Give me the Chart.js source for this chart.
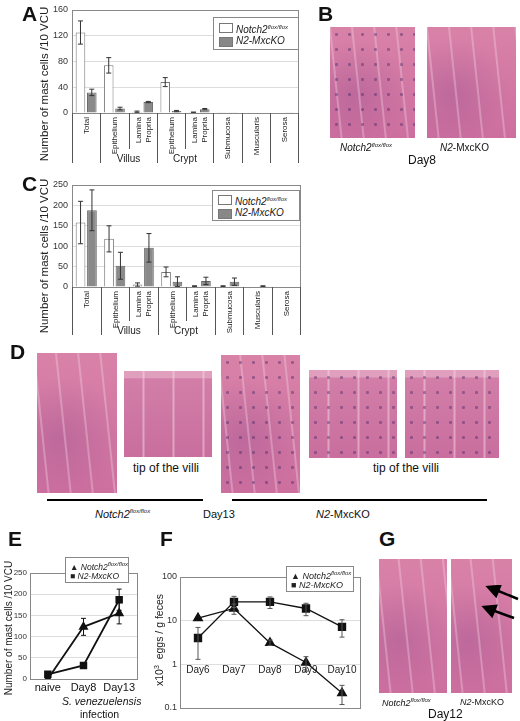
<!DOCTYPE html>
<html><head><meta charset="utf-8">
<script src="https://cdn.jsdelivr.net/npm/chart.js@4"></script>
<style>
body{margin:0;width:520px;height:721px;background:#fff;position:relative;overflow:hidden;font-family:Arial,"Liberation Sans",sans-serif;color:#111}
canvas{position:absolute}
.t{position:absolute;white-space:nowrap}
.vt{position:absolute;white-space:nowrap;transform:translate(-50%,-50%) rotate(-90deg);color:#222}
.L{position:absolute;font-weight:bold;font-size:21px}
.leg{position:absolute;border:1px solid #888;background:#fff;font-size:10px;font-style:italic;color:#222;white-space:nowrap}
.leg div{height:14px;line-height:14px;position:relative;padding-left:22px}
.sw{position:absolute;left:5px;top:3px;width:12px;height:8px;border:1px solid #777}
sup{font-size:6px}
.ph{position:absolute;background:
 repeating-linear-gradient(84deg,rgba(255,255,255,0) 0 10px,rgba(245,215,228,.35) 11px 12px,rgba(255,255,255,0) 13px 22px),
 radial-gradient(circle at 30% 60%,rgba(110,50,130,.2),rgba(0,0,0,0) 60%),
 linear-gradient(#d982a8,#cc6f9f);}
.tip{background:
 repeating-linear-gradient(90deg,rgba(255,255,255,0) 0 18px,rgba(245,215,228,.5) 19px 20px,rgba(255,255,255,0) 21px 30px),
 linear-gradient(#e0a0bd 0 8%,#d27ea8 9%,#c96e9e)}
.dots::after{content:"";position:absolute;inset:0;background:radial-gradient(circle,#3a2060 1.2px,rgba(0,0,0,0) 2px) 0 0/13px 15px;opacity:.4}
.hl{position:absolute;height:2px;background:#000}
</style></head><body>
<canvas id="cA" style="left:0px;top:0px" width="335" height="170"></canvas>
<canvas id="cC" style="left:0px;top:172px" width="335" height="165"></canvas>
<canvas id="cE" style="left:0px;top:560px" width="145" height="161"></canvas>
<canvas id="cF" style="left:145px;top:560px" width="225" height="161"></canvas>

<div class="vt" style="left:44px;top:84px;font-size:11.5px">Number of mast cells /10 VCU</div>
<div class="vt" style="left:44px;top:256px;font-size:11.5px">Number of mast cells /10 VCU</div>
<div class="vt" style="left:8px;top:628px;font-size:10px">Number of mast cells /10 VCU</div>
<div class="vt" style="left:159px;top:640px;font-size:10.5px">x10<sup style="font-size:7px">3</sup>&nbsp; eggs / g feces</div>

<div class="L" style="left:22px;top:2px">A</div>
<div class="L" style="left:318px;top:2px">B</div>
<div class="L" style="left:22px;top:172px">C</div>
<div class="L" style="left:10px;top:340px">D</div>
<div class="L" style="left:8px;top:527px">E</div>
<div class="L" style="left:160px;top:527px">F</div>
<div class="L" style="left:379px;top:527px">G</div>

<div class="leg" style="left:213px;top:17px;width:84px"><div style="margin-top:2px"><span class="sw" style="background:#fff"></span>Notch2<sup>flox/flox</sup></div><div style="margin-bottom:1px"><span class="sw" style="background:#888"></span>N2-MxcKO</div></div>
<div class="leg" style="left:212px;top:190px;width:86px"><div style="margin-top:1px"><span class="sw" style="background:#fff"></span>Notch2<sup>flox/flox</sup></div><div><span class="sw" style="background:#888"></span>N2-MxcKO</div></div>
<div class="leg" style="left:65px;top:557px;width:62px;font-size:8.5px"><div style="padding-left:4px;height:12px;line-height:12px">&#9650; Notch2<sup>flox/flox</sup></div><div style="padding-left:4px;height:12px;line-height:12px">&#9632; N2-MxcKO</div></div>
<div class="leg" style="left:286px;top:566px;width:66px;font-size:9px"><div style="padding-left:4px;height:12px;line-height:12px">&#9650; Notch2<sup>flox/flox</sup></div><div style="padding-left:4px;height:12px;line-height:12px">&#9632; N2-MxcKO</div></div>

<!-- B photos -->
<div class="ph dots" style="left:330px;top:27px;width:85px;height:111px"></div>
<div class="ph" style="left:427px;top:27px;width:89px;height:111px"></div>
<div class="t" style="left:340px;top:142px;font-size:10px;font-style:italic">Notch2<sup>flox/flox</sup></div>
<div class="t" style="left:440px;top:142px;font-size:10px"><i>N2</i>-MxcKO</div>
<div class="t" style="left:408px;top:153px;font-size:12px">Day8</div>

<!-- D photos -->
<div class="ph" style="left:37px;top:353px;width:80px;height:140px"></div>
<div class="ph tip" style="left:124px;top:371px;width:88px;height:86px"></div>
<div class="ph dots" style="left:221px;top:355px;width:79px;height:138px"></div>
<div class="ph tip dots" style="left:309px;top:370px;width:88px;height:88px"></div>
<div class="ph tip dots" style="left:405px;top:370px;width:94px;height:88px"></div>
<div class="t" style="left:133px;top:461px;font-size:12px">tip of the villi</div>
<div class="t" style="left:373px;top:461px;font-size:12px">tip of the villi</div>
<div class="hl" style="left:47px;top:499px;width:156px"></div>
<div class="hl" style="left:232px;top:499px;width:255px"></div>
<div class="t" style="left:95px;top:508px;font-size:11px;font-style:italic">Notch2<sup>flox/flox</sup></div>
<div class="t" style="left:203px;top:508px;font-size:11px">Day13</div>
<div class="t" style="left:316px;top:508px;font-size:11px"><i>N2</i>-MxcKO</div>

<!-- E x title -->
<div class="t" style="left:62px;top:695px;font-size:10.5px;font-style:italic">S. venezuelensis</div>
<div class="t" style="left:80px;top:708px;font-size:10.5px">infection</div>

<!-- G photos -->
<div class="ph" style="left:379px;top:559px;width:68px;height:134px"></div>
<div class="ph" style="left:451px;top:559px;width:61px;height:134px"></div>
<div class="t" style="left:382px;top:697px;font-size:9px;font-style:italic">Notch2<sup>flox/flox</sup></div>
<div class="t" style="left:460px;top:697px;font-size:9px"><i>N2</i>-MxcKO</div>
<div class="t" style="left:428px;top:707px;font-size:12px">Day12</div>
<svg style="position:absolute;left:480px;top:585px" width="40" height="50"><g stroke="#000" stroke-width="2.5" fill="#000"><line x1="38" y1="14" x2="16" y2="5"/><polygon points="8,2 20,1 16,11"/><line x1="34" y1="33" x2="12" y2="25"/><polygon points="4,22 16,21 12,31"/></g></svg>

<script>
// ---------- data ----------
const catsAC = ['Total','Epithelium','Lamina|Propria','Epithelium','Lamina|Propria','Submucosa','Muscularis','Serosa'];
const aFlox = [125, 74, 2, 48, 1, 0.5, 0, 0];
const aFloxErr = [18, 12, 1, 7, 0.5, 0, 0, 0];
const aKO = [32, 7, 17, 3, 6, 1, 0, 0.5];
const aKOErr = [5, 2, 1, 1, 1, 0, 0, 0];
const cFlox = [158, 118, 6, 37, 2, 2, 1, 1];
const cFloxErr = [52, 32, 4, 12, 1, 1, 0, 0];
const cKO = [188, 52, 96, 13, 15, 13, 2, 1];
const cKOErr = [50, 33, 35, 12, 9, 9, 1, 0];
const eCats = ['naive','Day8','Day13'];
const eFlox = [0, 123, 155];
const eFloxLo = [0, 103, 130];
const eFloxHi = [0, 143, 180];
const eKO = [11, 32, 187];
const eKOLo = [8, 29, 162];
const eKOHi = [14, 35, 212];
const fCats = ['Day6','Day7','Day8','Day9','Day10'];
const fFlox = [11.5, 19, 3.1, 1.1, 0.22];
const fFloxLo = [11.5, 14, 2.7, 0.7, 0.12];
const fFloxHi = [11.5, 24, 3.6, 1.5, 0.33];
const fKO = [4, 27, 27, 19, 7.2];
const fKOLo = [1.3, 20, 19, 13, 4.2];
const fKOHi = [7, 36, 35, 25, 10.5];

const F = 'Arial, "Liberation Sans", sans-serif';
Chart.defaults.font.family = F;
Chart.defaults.color = '#222';
Chart.defaults.animation = false;
Chart.defaults.plugins.legend.display = false;
Chart.defaults.plugins.tooltip.enabled = false;

const errPlugin = {id:'err', afterDatasetsDraw(ch){
  const c = ch.ctx, y = ch.scales.y;
  ch.data.datasets.forEach((ds,di)=>{
    if(!ds.lo) return;
    const m = ch.getDatasetMeta(di);
    c.save(); c.strokeStyle = ds.errColor||'#333'; c.lineWidth = 1;
    m.data.forEach((el,i)=>{
      if(ds.hi[i]===ds.lo[i]) return;
      const x = el.x, y1 = y.getPixelForValue(ds.lo[i]), y2 = y.getPixelForValue(ds.hi[i]);
      c.beginPath(); c.moveTo(x,y1); c.lineTo(x,y2);
      c.moveTo(x-2.5,y1); c.lineTo(x+2.5,y1); c.moveTo(x-2.5,y2); c.lineTo(x+2.5,y2); c.stroke();
    });
    c.restore();
  });
}};
const boxPlugin = {id:'box', afterDraw(ch){
  const a = ch.chartArea, c = ch.ctx; c.save(); c.strokeStyle='#888'; c.lineWidth=1;
  c.strokeRect(a.left+.5,a.top+.5,a.right-a.left,a.bottom-a.top); c.restore();
}};
function catLabels(depth){ return {id:'cat', afterDraw(ch){
  const c = ch.ctx, x = ch.scales.x, a = ch.chartArea, n = catsAC.length;
  const w = (a.right-a.left)/n;
  c.save(); c.strokeStyle='#555'; c.lineWidth=1; c.fillStyle='#222'; c.font='8px '+F;
  for(let k=0;k<=n;k++){
    const bx = Math.round(a.left + k*w)+.5;
    const short = (k===2||k===4);
    c.beginPath(); c.moveTo(bx,a.bottom); c.lineTo(bx,a.bottom+(short?depth-14:depth)); c.stroke();
  }
  catsAC.forEach((lab,i)=>{
    const cx = x.getPixelForValue(i); const parts = lab.split('|');
    parts.forEach((p,j)=>{
      c.save(); c.translate(cx + (parts.length>1 ? (j===0?-5:5) : 0) + 3, a.bottom+4);
      c.rotate(-Math.PI/2); c.textAlign='right'; c.fillText(p,0,0); c.restore();
    });
  });
  c.font='10px '+F; c.textAlign='center'; c.textBaseline='middle';
  c.fillText('Villus', a.left+2*w, a.bottom+depth-4);
  c.fillText('Crypt', a.left+4*w, a.bottom+depth-4);
  c.restore();
}};}
function barChart(id, flox, floxErr, ko, koErr, max, step, top, right, xh, depth){
  new Chart(document.getElementById(id),{type:'bar',
    data:{labels:catsAC, datasets:[
      {data:flox, backgroundColor:'#fff', borderColor:'#777', borderWidth:1,
       lo:flox.map((v,i)=>v-floxErr[i]), hi:flox.map((v,i)=>v+floxErr[i])},
      {data:ko, backgroundColor:'#8a8a8a', borderColor:'#666', borderWidth:1,
       lo:ko.map((v,i)=>v-koErr[i]), hi:ko.map((v,i)=>v+koErr[i])}]},
    options:{responsive:false, layout:{padding:{top:top,right:right,left:0,bottom:0}},
      datasets:{bar:{barPercentage:0.85,categoryPercentage:0.8}},
      scales:{
        x:{ticks:{display:false}, grid:{display:false}, border:{color:'#555'}, afterFit(s){s.height=xh;}},
        y:{min:0,max:max, ticks:{stepSize:step,font:{size:9},color:'#333',padding:4}, grid:{color:'#ddd',drawTicks:false},
           border:{display:false}, afterFit(s){s.width=72;}}
      }},
    plugins:[boxPlugin, errPlugin, catLabels(depth)]});
}
barChart('cA', aFlox, aFloxErr, aKO, aKOErr, 160, 40, 10, 37, 57, 50);
barChart('cC', cFlox, cFloxErr, cKO, cKOErr, 250, 50, 13, 35, 50, 48);

// E
new Chart(document.getElementById('cE'),{type:'line',
  data:{labels:eCats, datasets:[
    {data:eFlox, lo:eFloxLo, hi:eFloxHi, borderColor:'#111', backgroundColor:'#111', borderWidth:1.8, pointStyle:'triangle', pointRadius:4, errColor:'#111'},
    {data:eKO, lo:eKOLo, hi:eKOHi, borderColor:'#111', backgroundColor:'#111', borderWidth:1.8, pointStyle:'rect', pointRadius:4, errColor:'#111'}]},
  options:{responsive:false, layout:{padding:{top:13,right:8,left:0,bottom:0}},
    scales:{
      x:{offset:true, grid:{display:false,drawTicks:false}, border:{color:'#888'}, ticks:{font:{size:11},color:'#111',padding:2,maxRotation:0}, afterFit(s){s.height=42;}},
      y:{min:0,max:250, ticks:{stepSize:50,font:{size:8},color:'#333',padding:3}, grid:{color:'#ddd',drawTicks:false}, border:{display:false},
         afterFit(s){s.width=30;}}
    }},
  plugins:[boxPlugin, errPlugin]});

// F
new Chart(document.getElementById('cF'),{type:'line',
  data:{labels:fCats, datasets:[
    {data:fFlox, lo:fFloxLo, hi:fFloxHi, borderColor:'#111', backgroundColor:'#111', borderWidth:1.3, pointStyle:'triangle', pointRadius:5, errColor:'#555'},
    {data:fKO, lo:fKOLo, hi:fKOHi, borderColor:'#111', backgroundColor:'#111', borderWidth:1.3, pointStyle:'rect', pointRadius:5, errColor:'#555'}]},
  options:{responsive:false, layout:{padding:{top:17,right:10,left:0,bottom:0}},
    scales:{
      x:{offset:true, grid:{display:false}, border:{color:'#888'}, ticks:{display:false}, afterFit(s){s.height=13;}},
      y:{type:'logarithmic', min:0.1, max:100,
         afterBuildTicks(s){s.ticks=[0.1,1,10,100].map(v=>({value:v}));},
         ticks:{font:{size:9},color:'#333',padding:3,callback:v=>String(v)}, grid:{color:'#ddd',drawTicks:false}, border:{display:false},
         afterFit(s){s.width=35;}}
    }},
  plugins:[boxPlugin, errPlugin, {id:'flab', afterDraw(ch){
    const c=ch.ctx; c.save(); c.font='10px '+F; c.fillStyle='#222'; c.textAlign='center'; c.textBaseline='middle';
    fCats.forEach((l,i)=>c.fillText(l, ch.scales.x.getPixelForValue(i), ch.scales.y.getPixelForValue(0.72)));
    c.restore();}}]});
</script>
</body></html>
